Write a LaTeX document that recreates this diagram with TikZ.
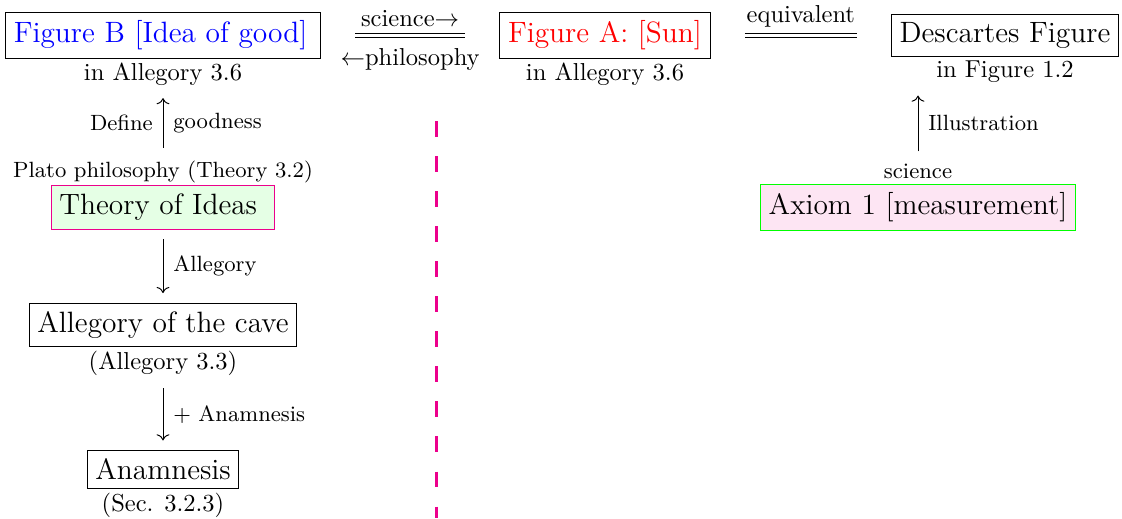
\documentclass[tikz,border=0pt]{standalone}
\usepackage{tikz}
\usetikzlibrary{arrows.meta,positioning}
\definecolor{plato}{RGB}{236,0,140}

\begin{document}
\begin{tikzpicture}[
  x=0.408pt, y=-0.408pt,
  box/.style={draw, font=\large},
  lbl/.style={inner sep=1pt},
  note/.style={font=\small, inner sep=4pt},
  arrow/.style={-{Computer Modern Rightarrow}, shorten <=4pt, shorten >=4pt},
  equal/.style={double, double distance=1.6pt, shorten <=14pt, shorten >=14pt}
]
\useasboundingbox (0,0) rectangle (1122,518);

% left column
\node[box, text=blue] (FigB) at (163,35.5) {Figure B [Idea of good]\,};
\node[lbl, below=0.4pt of FigB] (FigBlbl) {in Allegory 3.6};
\node[box, draw=plato, fill=green!10] (Ideas) at (163,207.5) {Theory of Ideas\kern3.9pt};
\node[lbl, font=\small, above=0pt of Ideas] (Plato) {Plato philosophy (Theory 3.2)};
\node[box] (Cave) at (163,325) {Allegory of the cave};
\node[lbl, below=0.4pt of Cave] (CaveLbl) {(Allegory 3.3)};
\node[box] (Anam) at (163,469.5) {Anamnesis};
\node[lbl, below=0.4pt of Anam] (AnamLbl) {(Sec. 3.2.3)};

% top row and right column
\node[box, text=red] (FigA) at (605,35.5) {Figure A: [Sun]};
\node[lbl, below=0.4pt of FigA] (FigALbl) {in Allegory 3.6};
\node[box] (Desc) at (1005,35.5) {Descartes Figure};
\node[lbl, below=0.4pt of Desc] (DescLbl) {in Figure 1.2};
\node[box, draw=green, fill=plato!10] (Axiom) at (918,207.5) {Axiom 1 [measurement]};
\node[lbl, font=\small, above=1pt of Axiom] (Sci) {science};

\draw[arrow] (Plato.north) -- (Plato.north |- FigBlbl.south)
  node[midway, left, note] {Define} node[midway, right, note] {goodness};
\draw[arrow] (Ideas) -- (Cave) node[midway, right, note] {Allegory};
\draw[arrow] (CaveLbl) -- (Anam) node[midway, right, note] {+ Anamnesis};
\draw[arrow] (Sci.north) -- (Sci.north |- DescLbl.south)
  node[midway, right, note] {Illustration};

\draw[equal] (FigB) -- (FigA) node[midway, above] {science$\rightarrow$}
  node[midway, below=1.7pt] {$\leftarrow$philosophy};
\draw[equal] (FigA) -- (Desc) node[midway, above] {equivalent};

% divider
\coordinate (DivTop) at (436.5,121);
\coordinate (DivBot) at (436.5,518);
\draw[plato, line width=1.6pt, dash pattern=on 6.5pt off 7.8pt] (DivTop) -- (DivBot);
\end{tikzpicture}
\end{document}
